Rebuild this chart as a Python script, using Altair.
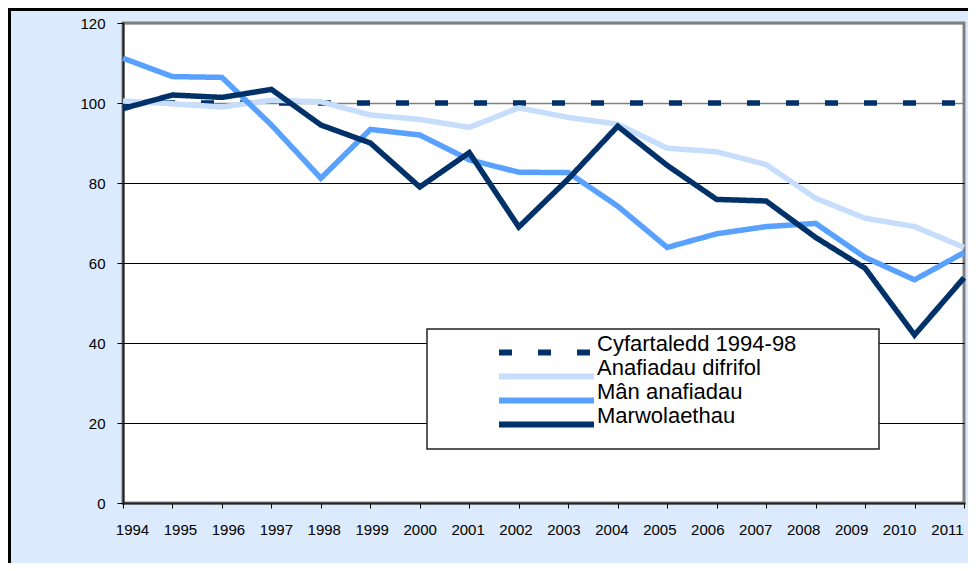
import altair as alt
import pandas as pd

years = list(range(1994, 2012))
series_names = ["Cyfartaledd 1994-98", "Anafiadau difrifol", "Mân anafiadau", "Marwolaethau"]

cyfartaledd = [100] * 18
anafiadau_difrifol = [100.5, 99.8, 99.0, 100.7, 100.3, 97.0, 95.9, 93.9, 98.8, 96.4,
                      94.7, 88.7, 87.8, 84.6, 76.2, 71.2, 69.1, 63.9]
man_anafiadau = [111.2, 106.6, 106.4, 94.5, 81.2, 93.4, 92.0, 85.8, 82.7, 82.6,
                 74.2, 63.9, 67.3, 69.1, 69.9, 61.4, 55.8, 62.6]
marwolaethau = [98.6, 102.0, 101.4, 103.4, 94.5, 90.0, 79.0, 87.6, 69.0, 81.0,
                94.2, 84.4, 75.9, 75.5, 66.4, 58.7, 42.0, 56.3]

colors = ["#003168", "#c6ddfc", "#59a1ff", "#003168"]
dashes = [[13, 26], [1, 0], [1, 0], [1, 0]]

rows = []
for name, vals in zip(series_names, [cyfartaledd, anafiadau_difrifol, man_anafiadau, marwolaethau]):
    for yr, v in zip(years, vals):
        rows.append({"year": yr, "value": v, "series": name, "order": series_names.index(name)})
df = pd.DataFrame(rows)

FONT = "Liberation Sans"

legend_def = alt.Legend(
    title=None,
    orient="none",
    legendX=304,
    legendY=303,
    padding=6,
    symbolType="M-1,0.18H1",
    symbolSize=9025,
    symbolStrokeWidth=6,
    symbolOffset=63,
    labelOffset=0,
    labelFontSize=22,
    labelFont=FONT,
    labelColor="black",
    labelLimit=500,
    labelBaseline="middle",
    clipHeight=24,
    rowPadding=0,
)

lines = alt.Chart(df).mark_line(strokeWidth=5.5, strokeCap="butt", strokeJoin="miter").encode(
    x=alt.X("year:Q",
            scale=alt.Scale(domain=[1994, 2011], nice=False, zero=False),
            axis=alt.Axis(values=years, format="d", title=None, grid=False,
                          tickSize=5, tickColor="black", tickWidth=1,
                          domainColor="#222222", domainWidth=2,
                          labelFontSize=15, labelFont=FONT, labelColor="black",
                          labelPadding=14, labelFlush=False,
                          labelOffset={"expr": "9 - (datum.value - 1994) * 1.53"})),
    y=alt.Y("value:Q",
            scale=alt.Scale(domain=[0, 120], nice=False),
            axis=alt.Axis(values=[0, 20, 40, 60, 80, 100, 120], title=None,
                          grid=True,
                          gridColor={"condition": {"test": "datum.value >= 100", "value": "#808080"},
                                     "value": "#000000"},
                          gridWidth={"condition": {"test": "datum.value >= 100", "value": 1.5},
                                     "value": 1},
                          tickSize=6, tickColor="black", tickWidth=1,
                          domainColor="#222222", domainWidth=2,
                          labelFontSize=15, labelFont=FONT, labelColor="black",
                          labelPadding=12)),
    color=alt.Color("series:N", scale=alt.Scale(domain=series_names, range=colors), legend=legend_def),
    strokeDash=alt.StrokeDash("series:N", scale=alt.Scale(domain=series_names, range=dashes), legend=legend_def),
    order=alt.Order("order:Q"),
    detail="series:N",
)

frame_data = alt.Data(values=[{"k": 1}])
legend_box = alt.Chart(frame_data).mark_rect(fill="white", stroke="#222222", strokeWidth=1.5).encode(
    x=alt.value(304), x2=alt.value(756), y=alt.value(306), y2=alt.value(426))
left_border = alt.Chart(frame_data).mark_rule(color="black", strokeWidth=3).encode(
    x=alt.value(-113.5), y=alt.value(-15), y2=alt.value(540))
top_border = alt.Chart(frame_data).mark_rule(color="black", strokeWidth=3).encode(
    x=alt.value(-115), x2=alt.value(845), y=alt.value(-13.5))

chart = alt.layer(lines, legend_box, left_border, top_border).properties(
    width=841,
    height=480,
    background="#dbeafd",
    padding={"left": 115, "top": 15, "right": 4, "bottom": 60},
    autosize=alt.AutoSizeParams(type="none"),
).configure_view(
    fill="white",
    stroke="#808080",
    strokeWidth=3,
).configure_axis(
    domainCap="square",
)

chart.save("out.html", embed_options={"renderer": "svg", "actions": False})
